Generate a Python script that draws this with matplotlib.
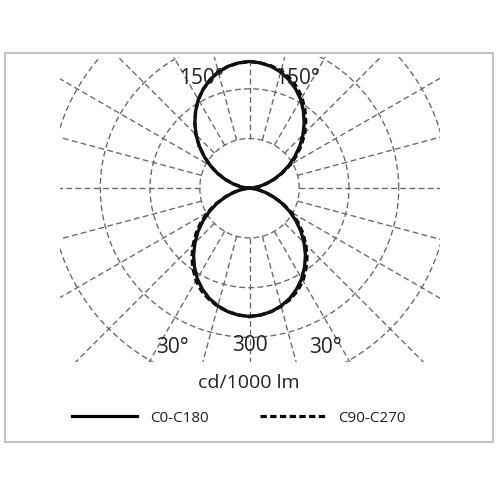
import numpy as np
import matplotlib
matplotlib.use("Agg")
import matplotlib.pyplot as plt
from matplotlib.patches import Rectangle
from matplotlib.lines import Line2D

plt.rcParams['font.family'] = ['Open Sans', 'DejaVu Sans']
plt.rcParams['lines.scale_dashes'] = False

# ---- data (cd/1000 lm), gamma angle from nadir, 0..180 deg in 5 deg steps ----
gamma_deg = list(range(0, 181, 5))
c0_c180 = [258, 256, 252, 245, 236, 224, 210, 193, 175, 155, 135, 114, 93, 72, 52, 34, 19, 7, 0,
           7, 19, 34, 52, 71, 91, 111, 132, 152, 171, 189, 206, 220, 232, 242, 249, 253, 255]
c90 = [258, 256, 252, 246, 238, 228, 215, 198, 180, 160, 140, 119, 97, 75, 53, 34, 19, 7, 0,
       7, 19, 34, 53, 73, 95, 116, 137, 157, 176, 194, 211, 225, 236, 245, 250, 253, 255]
c270 = [258, 256, 252, 246, 238, 228, 215, 198, 180, 160, 140, 119, 97, 75, 53, 34, 19, 7, 0,
        7, 19, 34, 52, 71, 91, 111, 132, 152, 171, 189, 206, 220, 232, 242, 249, 253, 255]

ring_values = [100, 200, 300, 400]
spoke_step = 15
angle_labels = ["150°", "150°", "30°", "30°"]
value_label = "300"
unit_label = "cd/1000 lm"
series_names = ["C0-C180", "C90-C270"]

fig = plt.figure(figsize=(5, 5), dpi=100)
fig.patch.set_facecolor('white')
ax = fig.add_axes([60/500, (500-362)/500, 380/500, 305/500])
ax.set_xlim(-381, 383)
ax.set_ylim(-349.5, 264)
ax.axis('off')

grid_kw = dict(color='#666666', lw=0.95, dashes=(4.2, 2.4), zorder=1)
t = np.linspace(0, 2*np.pi, 721)
for r in ring_values:
    ax.plot(r*np.cos(t), r*np.sin(t), **grid_kw)
for a in range(0, 360, spoke_step):
    ar = np.radians(a)
    rr = np.array([ring_values[0], 1200])
    ax.plot(rr*np.cos(ar), rr*np.sin(ar), **grid_kw)

g = np.radians(gamma_deg)

def closed_curve(right, left):
    right = np.asarray(right, float)
    left = np.asarray(left, float)
    xr = right*np.sin(g)
    yr = -right*np.cos(g)
    xl = -left[::-1]*np.sin(g[::-1])
    yl = -left[::-1]*np.cos(g[::-1])
    return np.concatenate([xr, xl]), np.concatenate([yr, yl])

x2, y2 = closed_curve(c90, c270)
ax.plot(x2, y2, color='black', lw=2.3, dashes=(4.5, 2.5), zorder=3)
x1, y1 = closed_curve(c0_c180, c0_c180)
ax.plot(x1, y1, color='#111111', lw=2.4, zorder=4, solid_joinstyle='round')

lab_kw = dict(fontsize=15, color='#222222', ha='center', va='center', zorder=5)
ax.text(-95.6, 220, angle_labels[0], **lab_kw)
ax.text(95.6, 220, angle_labels[1], **lab_kw)
ax.text(-154, -320, angle_labels[2], **lab_kw)
ax.text(152, -320, angle_labels[3], **lab_kw)
ax.text(0, -317, value_label, **lab_kw)

fig.text(248.5/500, 1-383/500, unit_label, fontsize=14, color='#222222', ha='center', va='center')

h1 = Line2D([], [], color='black', lw=2.3)
h2 = Line2D([], [], color='black', lw=2.3, dashes=(4.5, 2.5))
leg = fig.legend([h1, h2], series_names, loc='center left', bbox_to_anchor=(72/500, 1-418/500),
                 ncol=2, frameon=False, fontsize=11, handlelength=4.25, handletextpad=0.85,
                 columnspacing=3.4, borderpad=0, borderaxespad=0)
for txt in leg.get_texts():
    txt.set_color('#222222')

fig.add_artist(Rectangle((5/500, (500-442)/500), 488/500, 389/500, transform=fig.transFigure,
                         fill=False, ec='#c4c4c4', lw=1.5))

fig.savefig('out.png', dpi=100)
